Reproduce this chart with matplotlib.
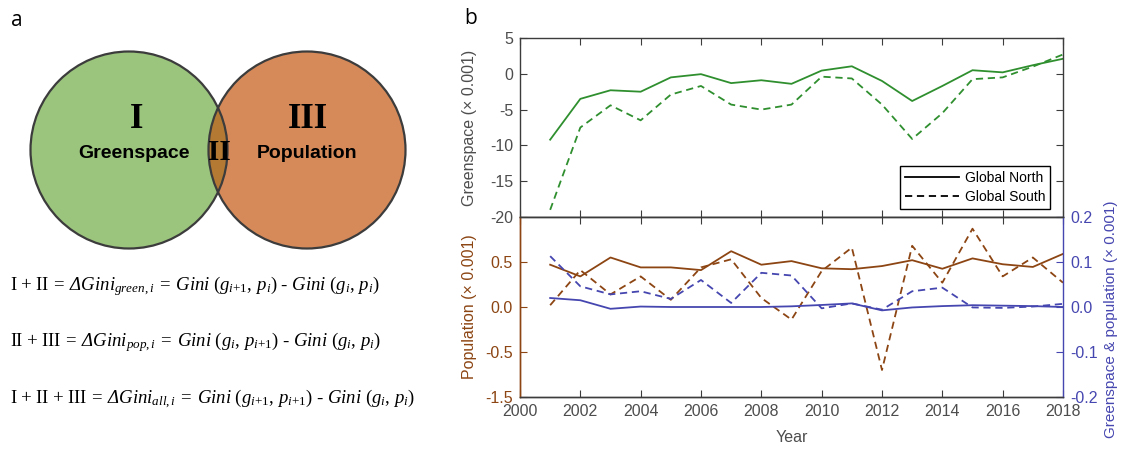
import matplotlib
matplotlib.use("Agg")
import matplotlib.pyplot as plt
from matplotlib.patches import Circle
from matplotlib.lines import Line2D
from matplotlib.ticker import FixedLocator, FixedFormatter, FormatStrFormatter

plt.rcParams['font.family'] = ['Liberation Sans', 'DejaVu Sans']
plt.rcParams['axes.unicode_minus'] = False
plt.rcParams['mathtext.fontset'] = 'custom'
plt.rcParams['mathtext.rm'] = 'Liberation Serif'
plt.rcParams['mathtext.it'] = 'Liberation Serif:italic'
plt.rcParams['mathtext.bf'] = 'Liberation Serif:bold'
plt.rcParams['mathtext.sf'] = 'Liberation Serif:italic'

# ---------------- data ----------------
years = list(range(2001, 2019))
green_north = [-9.2, -3.5, -2.3, -2.5, -0.5, -0.05, -1.3, -0.9, -1.4, 0.45,
               1.05, -1.0, -3.8, -1.7, 0.5, 0.2, 1.2, 2.1]
green_south = [-19.0, -7.5, -4.4, -6.5, -2.9, -1.7, -4.3, -5.0, -4.3, -0.4,
               -0.65, -4.3, -9.1, -5.5, -0.75, -0.5, 1.0, 2.7]
pop_north = [0.47, 0.34, 0.55, 0.44, 0.44, 0.41, 0.62, 0.47, 0.51, 0.43,
             0.42, 0.455, 0.52, 0.425, 0.54, 0.475, 0.445, 0.59]
pop_south = [0.02, 0.41, 0.14, 0.34, 0.08, 0.44, 0.53, 0.10, -0.14, 0.40,
             0.66, -0.70, 0.68, 0.27, 0.87, 0.34, 0.55, 0.27]
both_north = [0.020, 0.015, -0.004, 0.001, 0.0, 0.0, 0.0, 0.0, 0.0015, 0.0045,
              0.008, -0.0075, -0.001, 0.002, 0.004, 0.003, 0.002, 0.0]
both_south = [0.113, 0.046, 0.028, 0.035, 0.018, 0.060, 0.009, 0.076, 0.070, -0.003,
              0.008, -0.006, 0.035, 0.043, -0.001, -0.002, 0.001, 0.007]

xticks = list(range(2000, 2019, 2))
gs_ticks = [-20, -15, -10, -5, 0, 5]
pop_ticks = [-1.0, -0.5, 0.0, 0.5]
pop_ticklabels = ['-1.5', '-0.5', '0.0', '0.5']
both_ticks = [-0.2, -0.1, 0.0, 0.1, 0.2]

IP1 = r"\mathit{i}{+}\mathit{1}"
D = r"\mathsf{Δ}"
P = r"\ {+}\ "
E = r"\:=\:"
formulas = [
    r"$\mathrm{I}" + P + r"\mathrm{II}" + E + D + r"\mathit{Gini}_{\mathit{green,i}}" + E + r"\mathit{Gini}\ (\mathit{g}_{" + IP1 + r"},\,\mathit{p}_{\mathit{i}})\ \text{-}\ \mathit{Gini}\ (\mathit{g}_{\mathit{i}},\,\mathit{p}_{\mathit{i}})$",
    r"$\mathrm{II}" + P + r"\mathrm{III}" + E + D + r"\mathit{Gini}_{\mathit{pop,i}}" + E + r"\mathit{Gini}\ (\mathit{g}_{\mathit{i}},\,\mathit{p}_{" + IP1 + r"})\ \text{-}\ \mathit{Gini}\ (\mathit{g}_{\mathit{i}},\,\mathit{p}_{\mathit{i}})$",
    r"$\mathrm{I}" + P + r"\mathrm{II}" + P + r"\mathrm{III}" + E + D + r"\mathit{Gini}_{\mathit{all,i}}" + E + r"\mathit{Gini}\ (\mathit{g}_{" + IP1 + r"},\,\mathit{p}_{" + IP1 + r"})\ \text{-}\ \mathit{Gini}\ (\mathit{g}_{\mathit{i}},\,\mathit{p}_{\mathit{i}})$",
]

# ---------------- style ----------------
GREEN = '#2f8f2f'
BROWN = '#8c4513'
BLUE = '#4646b0'
GREY = '#4d4d4d'
DASH = (0, (4.0, 2.6))

fig = plt.figure(figsize=(11.23, 4.49), dpi=100)

# ---------------- panel a ----------------
axa = fig.add_axes([0, 0, 460 / 1123, 1])
axa.set_xlim(0, 460)
axa.set_ylim(449, 0)
axa.axis('off')

c1 = Circle((129, 150), 98.5, facecolor='#9bc47d', edgecolor='none', zorder=1)
c2 = Circle((307, 150), 98.5, facecolor='#d68a5a', edgecolor='none', zorder=1)
axa.add_patch(c1)
axa.add_patch(c2)
ov = Circle((307, 150), 98.5, facecolor='#b47a33', edgecolor='none', zorder=2)
axa.add_patch(ov)
clip = Circle((129, 150), 98.5, transform=axa.transData)
ov.set_clip_path(clip)
for c in [(129, 150), (307, 150)]:
    axa.add_patch(Circle(c, 98.5, facecolor='none', edgecolor='#3c3c3c', lw=1.6, zorder=3))

serif_b = dict(family='Liberation Serif', weight='bold', ha='center', va='center', zorder=4)
axa.text(137, 120, 'I', fontsize=25, **serif_b)
axa.text(308, 120, 'III', fontsize=25, **serif_b)
axa.text(219, 153, 'II', fontsize=21, **serif_b)
axa.text(134, 153, 'Greenspace', fontsize=14, weight='bold', ha='center', va='center', zorder=4)
axa.text(307, 153, 'Population', fontsize=14, weight='bold', ha='center', va='center', zorder=4)

for i, f in enumerate(formulas):
    axa.text(10, 290 + 56.5 * i, f, fontsize=13.5, ha='left', va='baseline')

fig.text(17 / 1123, 1 - 20 / 449, 'a', fontsize=15, family='Open Sans', ha='center', va='center')
fig.text(471 / 1123, 1 - 19 / 449, 'b', fontsize=15, family='Open Sans', ha='center', va='center')

# ---------------- panel b ----------------
L, W = 520 / 1123, 543 / 1123
ax1 = fig.add_axes([L, 1 - 217 / 449, W, 179 / 449])
ax2 = fig.add_axes([L, 1 - 397 / 449, W, 180 / 449])
ax3 = ax2.twinx()

ax1.plot(years, green_north, color=GREEN, lw=1.3)
ax1.plot(years, green_south, color=GREEN, lw=1.3, ls=DASH)
ax1.set_xlim(2000, 2018)
ax1.set_ylim(-20, 5)
ax1.set_xticks(xticks)
ax1.set_xticklabels([])
ax1.set_yticks(gs_ticks)
ax1.tick_params(direction='in', length=5, width=0.8, top=True, right=True,
                colors='#3c3c3c', labelcolor=GREY, labelsize=11.5, pad=5)
ax1.set_ylabel('Greenspace (× 0.001)', color=GREY, fontsize=11.5)
ax1.yaxis.set_label_coords(-0.08, 0.5)
for s in ax1.spines.values():
    s.set_color('#3c3c3c')
    s.set_linewidth(1.0)

leg_handles = [Line2D([], [], color='black', lw=1.3),
               Line2D([], [], color='black', lw=1.3, ls=DASH)]
leg = ax1.legend(leg_handles, ['Global North', 'Global South'], loc='lower right',
                 bbox_to_anchor=(1 - 13 / 543, 8 / 179), borderaxespad=0,
                 fontsize=10, frameon=True, fancybox=False, framealpha=1,
                 edgecolor='black', handlelength=3.9, handletextpad=0.4,
                 labelspacing=0.35, borderpad=0.35)
leg.get_frame().set_linewidth(1.0)

ax2.plot(years, pop_north, color=BROWN, lw=1.3)
ax2.plot(years, pop_south, color=BROWN, lw=1.3, ls=DASH)
ax2.set_xlim(2000, 2018)
ax2.set_ylim(-1.0, 1.0)
ax2.yaxis.set_major_locator(FixedLocator(pop_ticks))
ax2.yaxis.set_major_formatter(FixedFormatter(pop_ticklabels))
ax2.set_xticks(xticks)
ax2.tick_params(axis='x', direction='in', length=5, width=0.8, top=True,
                colors='#3c3c3c', labelcolor=GREY, labelsize=11.5, pad=5)
ax2.tick_params(axis='y', direction='in', length=5, width=0.8,
                colors=BROWN, labelcolor=BROWN, labelsize=11.5, pad=5)
ax2.set_ylabel('Population (× 0.001)', color=BROWN, fontsize=11.5)
ax2.yaxis.set_label_coords(-0.08, 0.5)
ax2.set_xlabel('Year', color=GREY, fontsize=11.5, labelpad=8)

ax3.plot(years, both_north, color=BLUE, lw=1.3)
ax3.plot(years, both_south, color=BLUE, lw=1.3, ls=DASH)
ax3.set_ylim(-0.2, 0.2)
ax3.set_yticks(both_ticks)
ax3.yaxis.set_major_formatter(FormatStrFormatter('%.1f'))
ax3.tick_params(axis='y', direction='in', length=5, width=0.8,
                colors=BLUE, labelcolor=BLUE, labelsize=11.5, pad=5)
ax3.set_ylabel('Greenspace & population (× 0.001)', color=BLUE, fontsize=11, rotation=90)
ax3.yaxis.set_label_coords(1.075, 0.43)

for ax in (ax2, ax3):
    ax.spines['top'].set_color('#3c3c3c')
    ax.spines['bottom'].set_color('#3c3c3c')
    ax.spines['left'].set_color(BROWN)
    ax.spines['right'].set_color(BLUE)
    for s in ax.spines.values():
        s.set_linewidth(1.0)
ax2.spines['right'].set_visible(False)

fig.savefig('out.png', dpi=100)
